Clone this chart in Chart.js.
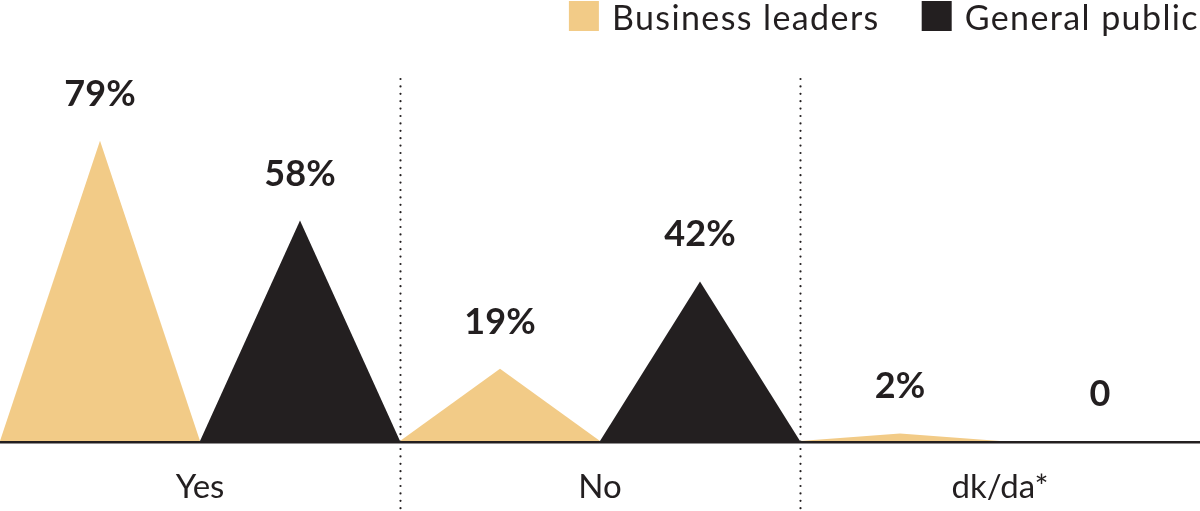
<!DOCTYPE html>
<html>
<head>
<meta charset="utf-8">
<script src="https://cdn.jsdelivr.net/npm/chart.js@4/dist/chart.umd.min.js"></script>
<style>
  html, body { margin: 0; padding: 0; background: #ffffff; }
  #wrap { width: 1200px; height: 511px; }
</style>
</head>
<body>
<div id="wrap"><canvas id="c" width="1200" height="511"></canvas></div>
<script>
const categories = ['Yes', 'No', 'dk/da*'];
const businessLeaders = [79, 19, 2];
const generalPublic = [58, 42, 0];
const seriesNames = ['Business leaders', 'General public'];
const seriesColors = ['#F2CB87', '#231F20'];

const INK = '#231F20';
const FONT = 'Lato, "DejaVu Sans", sans-serif';

function fmt(v) { return v === 0 ? '0' : v + '%'; }

const trianglePlugin = {
  id: 'triangles',
  beforeDatasetsDraw(chart) {
    const ctx = chart.ctx;
    const xs = chart.scales.x;
    ctx.save();
    ctx.strokeStyle = INK;
    ctx.lineWidth = 2.2;
    ctx.lineCap = 'round';
    ctx.setLineDash([0, 7.4]);
    for (let i = 1; i < categories.length; i++) {
      const x = Math.round((xs.getPixelForValue(i - 1) + xs.getPixelForValue(i)) / 2) + 0.5;
      ctx.beginPath();
      ctx.moveTo(x, 79);
      ctx.lineTo(x, 511);
      ctx.stroke();
    }
    ctx.restore();
  },
  afterDatasetsDraw(chart) {
    const ctx = chart.ctx;
    const area = chart.chartArea;
    ctx.save();
    chart.data.datasets.forEach((ds, di) => {
      const meta = chart.getDatasetMeta(di);
      meta.data.forEach((el) => {
        const p = el.getProps(['x', 'y', 'base', 'width'], true);
        if (Math.abs(p.base - p.y) < 0.01) return;
        ctx.fillStyle = seriesColors[di];
        ctx.beginPath();
        ctx.moveTo(p.x - p.width / 2, p.base);
        ctx.lineTo(p.x, p.y);
        ctx.lineTo(p.x + p.width / 2, p.base);
        ctx.closePath();
        ctx.fill();
      });
    });
    // baseline
    const y0 = chart.scales.y.getPixelForValue(0);
    ctx.fillStyle = INK;
    ctx.fillRect(area.left, y0, area.right - area.left, 2.5);

    // value labels
    ctx.font = 'bold 36px ' + FONT;
    ctx.textAlign = 'center';
    ctx.textBaseline = 'alphabetic';
    ctx.fillStyle = INK;
    chart.data.datasets.forEach((ds, di) => {
      const meta = chart.getDatasetMeta(di);
      meta.data.forEach((el, i) => {
        const p = el.getProps(['x', 'y'], true);
        ctx.fillText(fmt(ds.data[i]), p.x, p.y - 35);
      });
    });

    // category labels
    const xs = chart.scales.x;
    ctx.font = '33px ' + FONT;
    categories.forEach((c, i) => {
      ctx.fillText(c, xs.getPixelForValue(i), 498);
    });

    // legend (top right)
    ctx.font = '34px ' + FONT;
    ctx.letterSpacing = '1.4px';
    ctx.textAlign = 'left';
    const box = 30, gap = 13, itemGap = 42;
    const widths = seriesNames.map(n => ctx.measureText(n).width);
    let total = 0;
    widths.forEach((w, i) => { total += box + gap + w + (i < widths.length - 1 ? itemGap : 0); });
    let x = 1199 - total;
    seriesNames.forEach((n, i) => {
      ctx.fillStyle = seriesColors[i];
      ctx.fillRect(x, 1, box, box);
      x += box + gap;
      ctx.fillStyle = INK;
      ctx.fillText(n, x, 30);
      x += widths[i] + itemGap;
    });
    ctx.letterSpacing = '0px';
    ctx.restore();
  }
};

new Chart(document.getElementById('c'), {
  type: 'bar',
  data: {
    labels: categories,
    datasets: [
      { label: seriesNames[0], data: businessLeaders, backgroundColor: 'rgba(0,0,0,0)', borderWidth: 0 },
      { label: seriesNames[1], data: generalPublic, backgroundColor: 'rgba(0,0,0,0)', borderWidth: 0 }
    ]
  },
  options: {
    responsive: false,
    animation: false,
    devicePixelRatio: 1,
    layout: { padding: { top: 61, bottom: 70, left: 0, right: 0 } },
    datasets: { bar: { barPercentage: 1, categoryPercentage: 1 } },
    plugins: { legend: { display: false }, tooltip: { enabled: false } },
    scales: {
      x: { display: false },
      y: { display: false, min: 0, max: 100 }
    }
  },
  plugins: [trianglePlugin]
});
</script>
</body>
</html>
